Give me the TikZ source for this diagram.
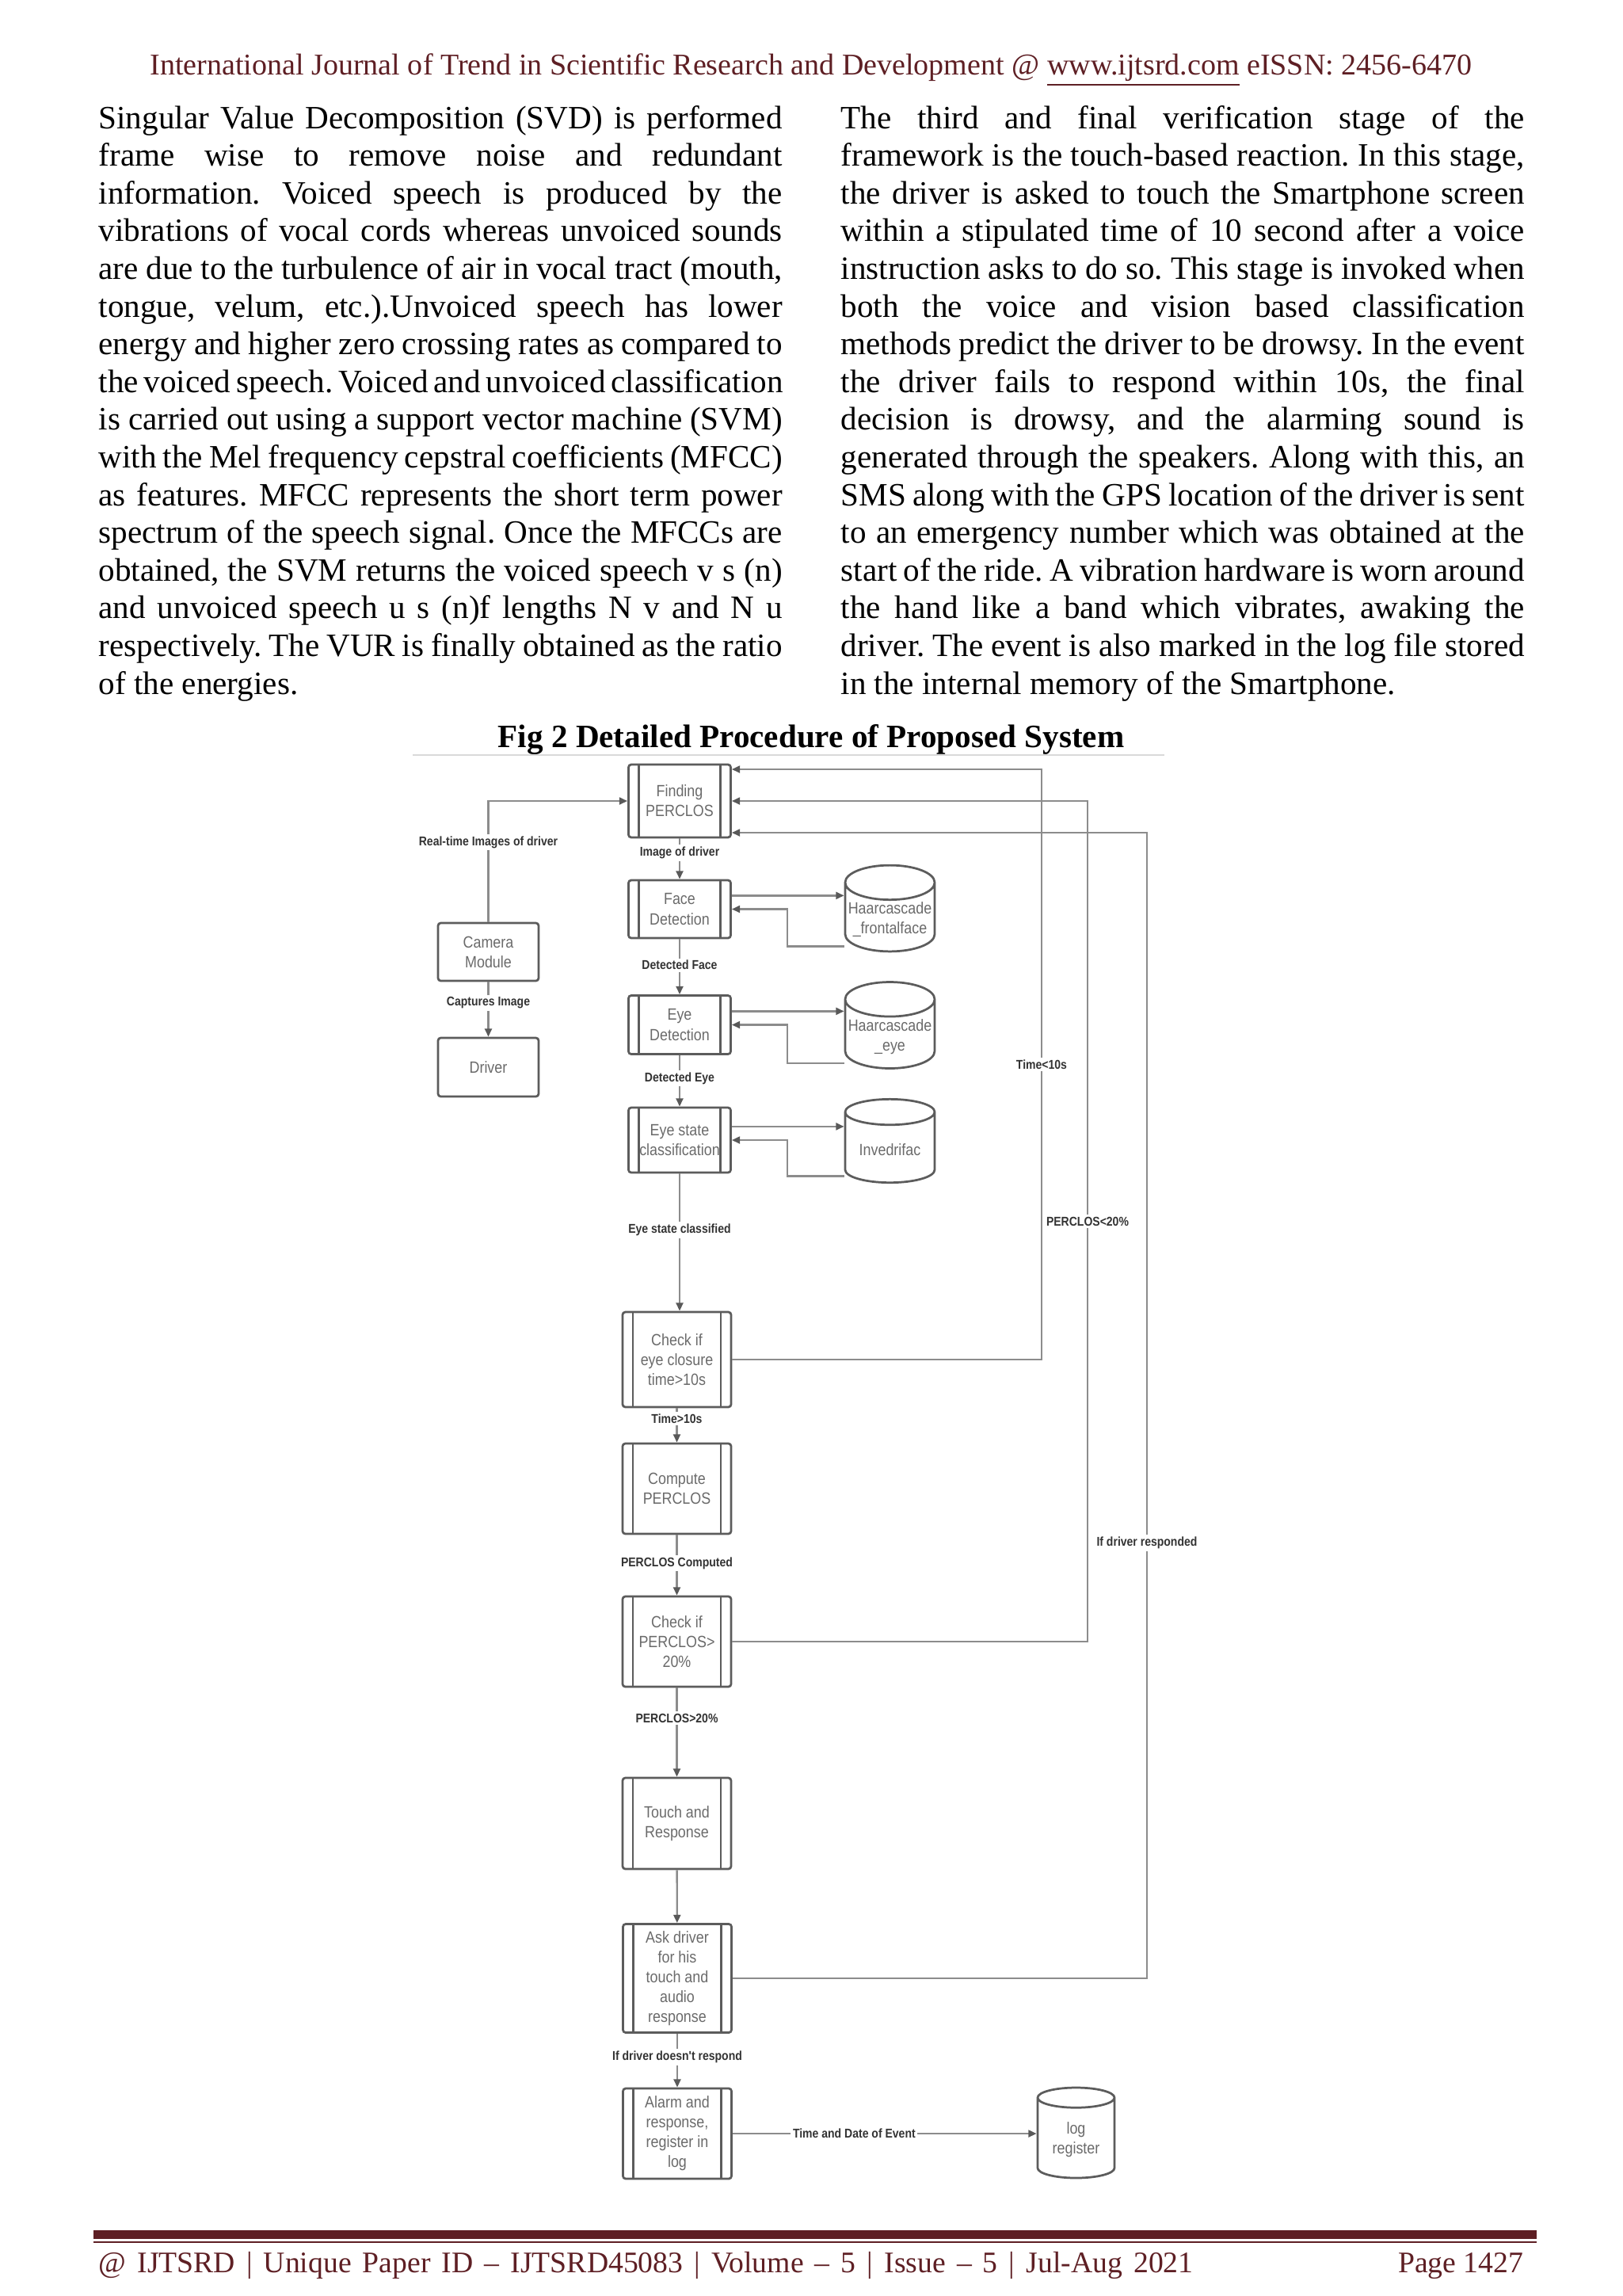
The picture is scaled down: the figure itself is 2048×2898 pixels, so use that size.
\documentclass[tikz,border=0pt]{standalone}
\usepackage{fontspec}
\setmainfont{Liberation Serif}
\newfontfamily\diagfont[FakeStretch=0.87]{Liberation Sans}
\usepackage{xcolor}
\usetikzlibrary{shapes.geometric,arrows.meta,positioning,calc}
\definecolor{granate}{HTML}{5E1F24}
\definecolor{borde}{HTML}{5C5C5C}
\definecolor{trazo}{HTML}{8C8C8C}
\definecolor{texto}{HTML}{6A6A6A}
\frenchspacing
\tikzset{
  linea/.style={anchor=base west, inner sep=0pt, font=\fontsize{12pt}{13.8pt}\selectfont},
  cabecera/.style={anchor=base, inner sep=0pt, text=granate, font=\fontsize{11.1pt}{13pt}\selectfont},
  pie/.style={inner sep=0pt, text=granate, font=\fontsize{11pt}{13pt}\selectfont},
  titulo/.style={anchor=base, inner sep=0pt, font=\fontsize{12pt}{14pt}\selectfont\bfseries},
  simple/.style={rectangle, draw=borde, line width=0.8pt, rounded corners=1pt,
                 minimum width=13.02mm, align=center, text=texto, inner sep=1pt,
                 font=\diagfont\fontsize{6pt}{7.3pt}\selectfont},
  proceso/.style={simple, minimum width=13.23mm,
                  path picture={\draw[borde, line width=0.6pt]
                    ([xshift=3.8pt]path picture bounding box.north west) -- ([xshift=3.8pt]path picture bounding box.south west)
                    ([xshift=-3.8pt]path picture bounding box.north east) -- ([xshift=-3.8pt]path picture bounding box.south east);}},
  ancho/.style={minimum width=14.05mm},
  datos/.style={cylinder, shape border rotate=90, draw=borde, line width=0.8pt,
                aspect=0.4, minimum width=11.59mm, minimum height=10.8mm,
                inner sep=0.5pt, align=center, text=texto, anchor=shape center,
                font=\diagfont\fontsize{6pt}{7.3pt}\selectfont},
  flecha/.style={draw=trazo, line width=0.7pt, -{Triangle[length=3pt, width=2.6pt, color=black!65]}},
  etiqueta/.style={fill=white, inner sep=0.8pt, text=black!80,
                   font=\diagfont\bfseries\fontsize{4.7pt}{5.5pt}\selectfont},
  marco/.style={draw=black!15, line width=0.5pt}
}
\begin{document}
\begin{tikzpicture}[x=0.010254cm, y=-0.010254cm]
  \useasboundingbox (0,0) rectangle (2048,2898);

  % cabecera y pie de pagina
  \node[cabecera] (cab) at (1024,94) {International Journal of Trend in Scientific Research and Development @ \underline{www.ijtsrd.com} eISSN: 2456-6470};
  \fill[granate] (118,2815) rectangle (1940,2826);
  \draw[granate, line width=0.6pt] (118,2829.5) -- (1940,2829.5);
  \node[pie, anchor=base west] (pie1) at (124,2868) {\makebox[141.7mm][s]{@ IJTSRD \textbar{} Unique Paper ID -- IJTSRD45083 \textbar{} Volume -- 5 \textbar{} Issue -- 5 \textbar{} Jul-Aug 2021}};
  \node[pie, anchor=base east] (pie2) at (1924,2868) {Page 1427};

  % texto a dos columnas
  \foreach \txt [count=\i] in {
    {Singular Value Decomposition (SVD) is performed},
    {frame wise to remove noise and redundant},
    {information. Voiced speech is produced by the},
    {vibrations of vocal cords whereas unvoiced sounds},
    {are due to the turbulence of air in vocal tract (mouth,},
    {tongue, velum, etc.).Unvoiced speech has lower},
    {energy and higher zero crossing rates as compared to},
    {the voiced speech. Voiced and unvoiced classification},
    {is carried out using a support vector machine (SVM)},
    {with the Mel frequency cepstral coefficients (MFCC)},
    {as features. MFCC represents the short term power},
    {spectrum of the speech signal. Once the MFCCs are},
    {obtained, the SVM returns the voiced speech v s (n)},
    {and unvoiced speech u s (n)f lengths N v and N u},
    {respectively. The VUR is finally obtained as the ratio}}
    \node[linea] (izq\i) at (124,{162+47.6*(\i-1)}) {\makebox[88.5mm][s]{\txt}};
  \node[linea] (izq16) at (124,{162+47.6*15}) {of the energies.};

  \foreach \txt [count=\i] in {
    {The third and final verification stage of the},
    {framework is the touch-based reaction. In this stage,},
    {the driver is asked to touch the Smartphone screen},
    {within a stipulated time of 10 second after a voice},
    {instruction asks to do so. This stage is invoked when},
    {both the voice and vision based classification},
    {methods predict the driver to be drowsy. In the event},
    {the driver fails to respond within 10s, the final},
    {decision is drowsy, and the alarming sound is},
    {generated through the speakers. Along with this, an},
    {SMS along with the GPS location of the driver is sent},
    {to an emergency number which was obtained at the},
    {start of the ride. A vibration hardware is worn around},
    {the hand like a band which vibrates, awaking the},
    {driver. The event is also marked in the log file stored}}
    \node[linea] (der\i) at (1061,{162+47.6*(\i-1)}) {\makebox[88.5mm][s]{\txt}};
  \node[linea] (der16) at (1061,{162+47.6*15}) {in the internal memory of the Smartphone.};

  \node[titulo] (tit) at (1024,943) {Fig 2 Detailed Procedure of Proposed System};
  \draw[marco] (521,953) -- (1470,953);

  % bloques del diagrama
  \node[proceso, minimum height=9.43mm] (fp) at (858,1011) {Finding\\PERCLOS};
  \node[proceso, minimum height=7.49mm] (face) at (858,1147.5) {Face\\Detection};
  \node[proceso, minimum height=7.59mm] (eye) at (858,1293.5) {Eye\\Detection};
  \node[proceso, minimum height=8.41mm] (est) at (858,1439) {Eye state\\classification};
  \node[proceso, ancho, minimum height=12.3mm] (t10) at (854.5,1716) {Check if\\eye closure\\time>10s};
  \node[proceso, ancho, minimum height=11.69mm] (comp) at (854.5,1879) {Compute\\PERCLOS};
  \node[proceso, ancho, minimum height=11.69mm] (p20) at (854.5,2072) {Check if\\PERCLOS>\\20\%};
  \node[proceso, ancho, minimum height=11.79mm] (touch) at (854.5,2301.5) {Touch and\\Response};
  \node[proceso, ancho, minimum height=14.05mm] (ask) at (855,2497) {Ask driver\\for his\\touch and\\audio\\response};
  \node[proceso, ancho, minimum height=11.69mm] (alarm) at (855,2693) {Alarm and\\response,\\register in\\log};
  \node[simple, minimum height=7.49mm] (cam) at (616.5,1201.5) {Camera\\Module};
  \node[simple, minimum height=7.59mm] (drv) at (616.5,1347) {Driver};

  \node[datos] (hf) at (1123.5,1146.5) {Haarcascade\\\_frontalface};
  \node[datos] (he) at (1123.5,1294) {Haarcascade\\\_eye};
  \node[datos] (inv) at (1123.5,1440) {Invedrifac};
  \node[datos, minimum width=9.95mm, minimum height=11.69mm] (log) at (1358.5,2692) {log\\register};

  \coordinate (retx) at (994,0);
  \coordinate (riel1) at (1315,0);
  \coordinate (riel2) at (1373,0);
  \coordinate (riel3) at (1448,0);

  % flujo principal
  \draw[flecha] (cam.north) |- node[etiqueta, pos=0.33]{Real-time Images of driver} (fp.west);
  \draw[flecha] (cam) -- node[etiqueta, pos=0.38]{Captures Image} (drv);
  \draw[flecha] (fp) -- node[etiqueta, pos=0.35]{Image of driver} (face);
  \draw[flecha] (face) -- node[etiqueta, pos=0.47]{Detected Face} (eye);
  \draw[flecha] (eye) -- node[etiqueta, pos=0.45]{Detected Eye} (est);
  \draw[flecha] (est.south) -- node[etiqueta, pos=0.41]{Eye state classified} (est.south |- t10.north);
  \draw[flecha] (t10) -- node[etiqueta, pos=0.3]{Time>10s} (comp);
  \draw[flecha] (comp) -- node[etiqueta, pos=0.47]{PERCLOS Computed} (p20);
  \draw[flecha] (p20) -- node[etiqueta, pos=0.34]{PERCLOS>20\%} (touch);
  \draw[flecha] (touch) -- (ask);
  \draw[flecha] (ask) -- node[etiqueta, pos=0.44]{If driver doesn't respond} (alarm);
  \draw[flecha] (alarm.east) -- node[etiqueta, pos=0.4]{Time and Date of Event} (alarm.east -| log.west);

  % consultas a los clasificadores
  \foreach \b/\c in {face/hf, eye/he, est/inv} {
    \draw[flecha] ([yshift=5pt]\b.east) -- ([yshift=5pt]\b.east -| \c.west);
    \draw[flecha] ([yshift=-9.8pt]\c.west) -| (retx |- \b.east) -- (\b.east);
  }

  % realimentacion
  \draw[flecha] (t10.east) -| node[etiqueta, pos=0.75]{Time<10s} ([yshift=11.67pt]riel1 |- fp.east) -- ([yshift=11.67pt]fp.east);
  \draw[flecha] (p20.east) -| node[etiqueta, pos=0.75]{PERCLOS<20\%} (riel2 |- fp.east) -- (fp.east);
  \draw[flecha] (ask.east) -| node[etiqueta, pos=0.69]{If driver responded} ([yshift=-11.67pt]riel3 |- fp.east) -- ([yshift=-11.67pt]fp.east);
\end{tikzpicture}
\end{document}
